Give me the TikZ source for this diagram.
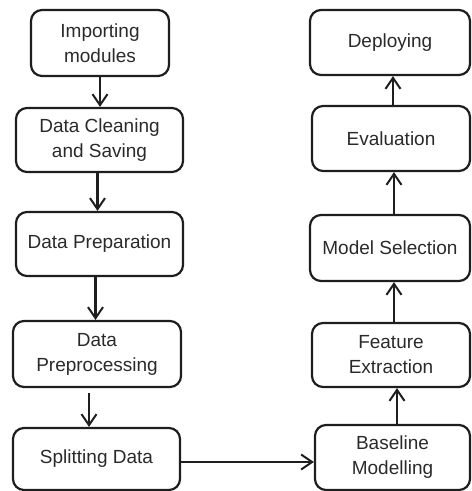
\documentclass[tikz,border=0pt]{standalone}
\usepackage{fontspec}
\setmainfont{Liberation Sans}
\usetikzlibrary{arrows.meta}
\definecolor{ink}{HTML}{1E1E1E}
\definecolor{txt}{HTML}{2A2A2A}
\begin{document}
\begin{tikzpicture}[x=1pt,y=-1pt,
  box/.style={draw=ink, line width=2.2pt, rounded corners=11pt, align=center,
    font=\fontsize{19}{25}\selectfont, text=txt, inner sep=0pt},
  flow/.style={draw=ink, line width=2.2pt, -{Straight Barb[length=11pt,width=15pt,line width=2pt]}}]
\useasboundingbox (0,0) rectangle (472,491);
\node[box, minimum width=138pt, minimum height=66pt] (imp) at (100,43) {Importing\\modules};
\node[box, minimum width=167pt, minimum height=64pt] (clean) at (99.5,140) {Data Cleaning\\and Saving};
\node[box, minimum width=167pt, minimum height=64pt] (prep) at (99.5,244) {Data Preparation};
\node[box, minimum width=168pt, minimum height=66pt] (preproc) at (97,354) {Data\\Preprocessing};
\node[box, minimum width=167pt, minimum height=62pt] (split) at (96.5,459) {Splitting Data};
\node[box, minimum width=160pt, minimum height=65pt] (deploy) at (390,42.5) {Deploying};
\node[box, minimum width=158pt, minimum height=65pt] (eval) at (391,138.5) {Evaluation};
\node[box, minimum width=160pt, minimum height=66pt] (model) at (390,248) {Model Selection};
\node[box, minimum width=158pt, minimum height=64pt] (feat) at (391,355) {Feature\\Extraction};
\node[box, minimum width=155pt, minimum height=65pt] (base) at (392.5,457.5) {Baseline\\Modelling};
\draw[flow] (imp.south) -- (imp.south |- clean.north);
\draw[flow] ([xshift=-2pt]clean.south) -- ([xshift=-2pt]clean.south |- prep.north);
\draw[flow] ([xshift=-4pt]prep.south) -- ([xshift=-4pt]prep.south |- preproc.north);
\draw[flow] ([xshift=-8pt,yshift=-5pt]preproc.south) -- ([xshift=-8pt]preproc.south |- split.north);
\draw[flow, line width=2.8pt] ([yshift=-3pt]split.east) -- ([yshift=-3pt]split.east -| base.west);
\draw[flow] ([xshift=4.5pt]base.north) -- ([xshift=4.5pt]base.north |- feat.south);
\draw[flow] ([xshift=3pt]feat.north) -- ([xshift=3pt]feat.north |- model.south);
\draw[flow] ([xshift=4pt]model.north) -- ([xshift=4pt]model.north |- eval.south);
\draw[flow] ([xshift=2pt]eval.north) -- ([xshift=2pt]eval.north |- deploy.south);
\end{tikzpicture}
\end{document}
